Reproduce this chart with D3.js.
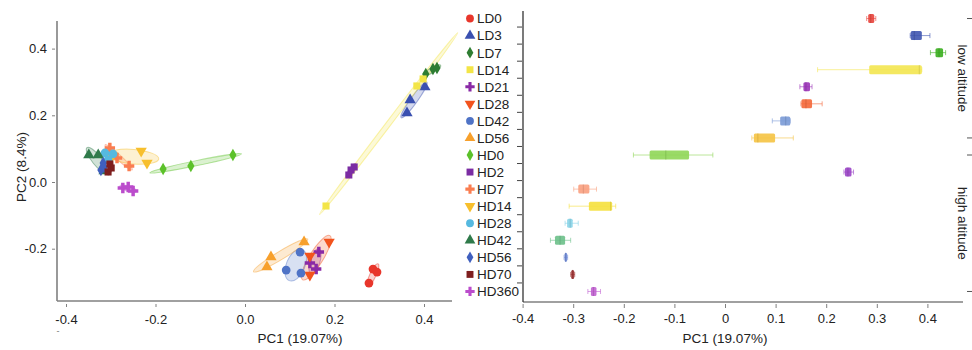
<!DOCTYPE html>
<html>
<head>
<meta charset="utf-8">
<script src="https://cdn.jsdelivr.net/npm/d3@7"></script>
<style>
  body { margin: 0; background: #fff; }
  svg { font-family: "Liberation Sans", Arial, sans-serif; }
  .axis path, .axis line { stroke: #808080; }
  .axis text { fill: #222; font-size: 13px; }
</style>
</head>
<body>
<svg id="chart" width="972" height="350"></svg>
<script>
// groups (legend order)
const groups = ["LD0", "LD3", "LD7", "LD14", "LD21", "LD28", "LD42", "LD56",
  "HD0", "HD2", "HD7", "HD14", "HD28", "HD42", "HD56", "HD70", "HD360"];
const shapes = ["circle", "triangle", "diamond", "square", "cross", "triangleDown", "circle", "triangle",
  "diamond", "square", "cross", "triangleDown", "circle", "triangle", "diamond", "square", "cross"];
const colors = ["#e8362b", "#3a50b0", "#2e7d32", "#f3e547", "#8a2aa6", "#f2531d", "#4f73c6", "#f7a02c",
  "#5cc12a", "#7b2ca3", "#fa7d50", "#f7bf2d", "#56b9e0", "#2f7a4a", "#3f5fbe", "#7e1e1e", "#bb4ccc"];
const boxColors = ["#e8433b", "#3f55b0", "#3aae1e", "#f3e550", "#9b34b8", "#f4683a", "#7a9ad6", "#f5c342",
  "#8fd657", "#9a42c6", "#f9a07f", "#f5e03d", "#88d4e8", "#6cc08a", "#6c88d6", "#9c3030", "#c060d0"];

// PCA scores, three samples per group
const pc1 = [
  [0.286, 0.295, 0.277], [0.402, 0.369, 0.362], [0.404, 0.420, 0.429], [0.181, 0.384, 0.398],
  [0.165, 0.145, 0.159], [0.188, 0.145, 0.145], [0.123, 0.092, 0.125], [0.132, 0.058, 0.049],
  [-0.183, -0.121, -0.027], [0.244, 0.237, 0.232], [-0.302, -0.286, -0.259], [-0.232, -0.219, -0.297],
  [-0.313, -0.295, -0.306], [-0.349, -0.328, -0.315], [-0.322, -0.317, -0.315], [-0.302, -0.306, -0.299],
  [-0.273, -0.261, -0.250]
];
const pc2 = [
  [-0.261, -0.270, -0.303], [0.285, 0.246, 0.207], [0.324, 0.339, 0.342], [-0.072, 0.288, 0.309],
  [-0.210, -0.243, -0.261], [-0.180, -0.222, -0.279], [-0.210, -0.264, -0.273], [-0.180, -0.225, -0.255],
  [0.039, 0.048, 0.081], [0.045, 0.036, 0.021], [0.102, 0.072, 0.048], [0.093, 0.057, 0.078],
  [0.087, 0.084, 0.066], [0.081, 0.081, 0.033], [0.036, 0.057, 0.045], [0.054, 0.030, 0.042],
  [-0.018, -0.015, -0.027]
];

// PC1 box plot summaries
const boxMin = [0.280, 0.366, 0.406, 0.183, 0.148, 0.150, 0.0935, 0.053, -0.181, 0.235, -0.299, -0.308, -0.316, -0.345, -0.318, -0.305, -0.271];
const boxQ1  = [0.283, 0.367, 0.416, 0.285, 0.155, 0.151, 0.109, 0.057, -0.149, 0.237, -0.290, -0.269, -0.312, -0.336, -0.317, -0.304, -0.265];
const boxMed = [0.288, 0.374, 0.423, 0.384, 0.160, 0.160, 0.120, 0.065, -0.117, 0.243, -0.280, -0.226, -0.306, -0.326, -0.315, -0.301, -0.260];
const boxQ3  = [0.295, 0.389, 0.431, 0.389, 0.168, 0.172, 0.129, 0.099, -0.071, 0.250, -0.268, -0.223, -0.301, -0.316, -0.312, -0.298, -0.254];
const boxMax = [0.298, 0.405, 0.436, 0.389, 0.172, 0.192, 0.129, 0.135, -0.024, 0.254, -0.254, -0.216, -0.290, -0.305, -0.311, -0.297, -0.246];

const leftXTicks = [-0.4, -0.2, 0.0, 0.2, 0.4];
const leftYTicks = [-0.2, 0.0, 0.2, 0.4];
const rightXTicks = [-0.4, -0.3, -0.2, -0.1, 0, 0.1, 0.2, 0.3, 0.4];
const altitudeGroups = [
  { label: "low altitude", first: "LD0", last: "LD56" },
  { label: "high altitude", first: "HD0", last: "HD360" }
];

const svg = d3.select("#chart");

function symbolPath(shape, size) {
  const map = { circle: d3.symbolCircle, triangle: d3.symbolTriangle, triangleDown: d3.symbolTriangle,
    diamond: d3.symbolDiamond, square: d3.symbolSquare, cross: d3.symbolCross };
  return d3.symbol().type(map[shape]).size(size)();
}
function symbolRot(shape) { return shape === "triangleDown" ? " rotate(180)" : ""; }
const symSize = { circle: 60, triangle: 55, triangleDown: 55, diamond: 45, square: 50, cross: 60 };

// ---------- left: PCA scatter ----------
const x1 = d3.scaleLinear().domain([0, 0.2]).range([245, 334.5]);
const y1 = d3.scaleLinear().domain([0, 0.2]).range([182, 115.3]);
const L = { left: 57, right: 452, top: 21, bottom: 301 };

const gx1 = svg.append("g").attr("class", "axis").attr("transform", `translate(0,${L.bottom})`)
  .call(d3.axisBottom(x1).tickValues(leftXTicks).tickFormat(d => d.toFixed(1)).tickSize(6).tickPadding(8).tickSizeOuter(0));
gx1.select(".domain").attr("d", `M${L.left},0H${L.right}`).attr("stroke-width", 1.6);
gx1.selectAll(".tick line").attr("y1", 3);

const gy1 = svg.append("g").attr("class", "axis").attr("transform", `translate(${L.left},0)`)
  .call(d3.axisLeft(y1).tickValues(leftYTicks).tickFormat(d => d.toFixed(1)).tickSize(5).tickPadding(5).tickSizeOuter(0));
gy1.select(".domain").attr("d", `M0,${L.top}V${L.bottom}`).attr("stroke-width", 1.6);
gy1.selectAll(".tick line").attr("x1", -2);

svg.append("text").attr("transform", `translate(26,167) rotate(-90)`).attr("text-anchor", "middle")
  .attr("font-size", 13.5).attr("fill", "#222").text("PC2 (8.4%)");
svg.append("text").attr("x", 300).attr("y", 343).attr("text-anchor", "middle")
  .attr("font-size", 13.5).attr("fill", "#222").text("PC1 (19.07%)");
svg.append("text").attr("x", 58).attr("y", 334).attr("text-anchor", "middle")
  .attr("font-size", 9).attr("fill", "#777").text("-");

// confidence ellipses from each group's points
const k = 1.25;
const ellG = svg.append("g");
groups.forEach((g, i) => {
  const pts = pc1[i].map((v, j) => [x1(v), y1(pc2[i][j])]);
  const mx = d3.mean(pts, p => p[0]), my = d3.mean(pts, p => p[1]);
  const n = pts.length;
  const a = d3.sum(pts, p => (p[0] - mx) ** 2) / (n - 1);
  const c = d3.sum(pts, p => (p[1] - my) ** 2) / (n - 1);
  const b = d3.sum(pts, p => (p[0] - mx) * (p[1] - my)) / (n - 1);
  const tr = (a + c) / 2, df = Math.sqrt(((a - c) / 2) ** 2 + b * b);
  const l1 = tr + df, l2 = Math.max(tr - df, 0);
  const ang = 0.5 * Math.atan2(2 * b, a - c) * 180 / Math.PI;
  ellG.append("ellipse")
    .attr("transform", `translate(${mx},${my}) rotate(${ang})`)
    .attr("rx", k * Math.sqrt(l1) + 2).attr("ry", Math.max(k * Math.sqrt(l2), 2.5))
    .attr("fill", colors[i]).attr("fill-opacity", 0.22)
    .attr("stroke", colors[i]).attr("stroke-opacity", 0.45).attr("stroke-width", 1);
});

const ptG = svg.append("g");
groups.forEach((g, i) => {
  ptG.selectAll(null).data(pc1[i].map((v, j) => [v, pc2[i][j]])).join("path")
    .attr("transform", d => `translate(${x1(d[0])},${y1(d[1])})${symbolRot(shapes[i])}`)
    .attr("d", symbolPath(shapes[i], symSize[shapes[i]]))
    .attr("fill", colors[i]);
});

// ---------- right: PC1 box plots ----------
const x2 = d3.scaleLinear().domain([0, 0.1]).range([725, 775.6]);
const y2 = d3.scaleBand().domain(groups).range([10, 300]);
const R = { left: 523, right: 963, top: 11, bottom: 302 };
const yc = g => y2(g) + y2.bandwidth() / 2;

const gx2 = svg.append("g").attr("class", "axis").attr("transform", `translate(0,${R.bottom})`)
  .call(d3.axisBottom(x2).tickValues(rightXTicks).tickFormat(d => String(+d.toFixed(1))).tickSize(6).tickPadding(6).tickSizeOuter(0));
gx2.select(".domain").attr("d", `M${R.left},0H${R.right}`).attr("stroke-width", 1.6);
gx2.selectAll(".tick line").attr("y1", 2);

svg.append("line").attr("x1", R.left).attr("x2", R.left).attr("y1", R.top).attr("y2", R.bottom)
  .attr("stroke", "#333").attr("stroke-width", 1.3);
svg.append("g").selectAll("line").data(groups.slice(1)).join("line")
  .attr("x1", R.left - 6).attr("x2", R.left - 1)
  .attr("y1", d => y2(d)).attr("y2", d => y2(d))
  .attr("stroke", "#444").attr("stroke-width", 1);

svg.append("text").attr("x", 725).attr("y", 343).attr("text-anchor", "middle")
  .attr("font-size", 13.5).attr("fill", "#222").text("PC1 (19.07%)");

// legend / category labels
const leg = svg.append("g").selectAll("g").data(groups).join("g")
  .attr("transform", d => `translate(470,${yc(d)})`);
leg.append("path")
  .attr("transform", (d, i) => shapes[i] === "triangleDown" ? "rotate(180)" : "")
  .attr("d", (d, i) => symbolPath(shapes[i], shapes[i] === "diamond" ? 40 : shapes[i].startsWith("tri") ? 50 : 48))
  .attr("fill", (d, i) => colors[i]);
leg.append("text").attr("x", 7).attr("dy", "0.36em").attr("font-size", 13.5).attr("fill", "#222")
  .text(d => d);

// boxes
const bh = 9;
const boxG = svg.append("g").selectAll("g").data(groups).join("g")
  .attr("transform", d => `translate(0,${yc(d)})`);
boxG.append("line")
  .attr("x1", (d, i) => x2(boxMin[i])).attr("x2", (d, i) => x2(boxMax[i]))
  .attr("stroke", (d, i) => boxColors[i]).attr("stroke-opacity", 0.6).attr("stroke-width", 1);
[boxMin, boxMax].forEach(arr => {
  boxG.append("line")
    .attr("x1", (d, i) => x2(arr[i])).attr("x2", (d, i) => x2(arr[i]))
    .attr("y1", -2.5).attr("y2", 2.5)
    .attr("stroke", (d, i) => boxColors[i]).attr("stroke-opacity", 0.6).attr("stroke-width", 1);
});
boxG.append("rect")
  .attr("x", (d, i) => x2(boxQ1[i])).attr("width", (d, i) => x2(boxQ3[i]) - x2(boxQ1[i]))
  .attr("y", -bh / 2).attr("height", bh).attr("rx", 1.5)
  .attr("fill", (d, i) => boxColors[i]).attr("fill-opacity", 0.9);
boxG.append("line")
  .attr("x1", (d, i) => x2(boxMed[i])).attr("x2", (d, i) => x2(boxMed[i]))
  .attr("y1", -bh / 2).attr("y2", bh / 2)
  .attr("stroke", (d, i) => d3.color(boxColors[i]).darker(0.5)).attr("stroke-opacity", 0.6).attr("stroke-width", 1);

// altitude brackets on the right
altitudeGroups.forEach(a => {
  [a.first, a.last].forEach(g => {
    svg.append("line").attr("x1", 967).attr("x2", 972).attr("y1", yc(g)).attr("y2", yc(g))
      .attr("stroke", "#555").attr("stroke-width", 1);
  });
  const mid = (yc(a.first) + yc(a.last)) / 2;
  svg.append("text").attr("transform", `translate(958,${mid}) rotate(90)`)
    .attr("text-anchor", "middle").attr("font-size", 13.5).attr("fill", "#222").text(a.label);
});
</script>
</body>
</html>
